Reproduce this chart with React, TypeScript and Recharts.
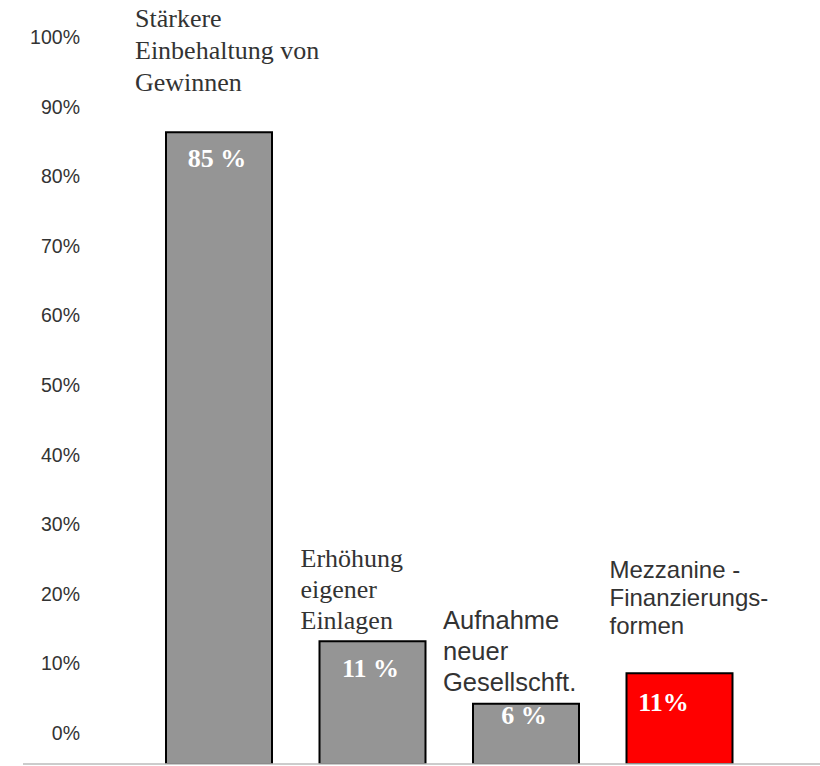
import React from 'react';
import { BarChart, Bar, XAxis, YAxis, Cell, LabelList } from 'recharts';

// values (bar tops), plus the labels printed in the bars
const categories = ['Einbehaltung', 'Einlagen', 'Gesellschafter', 'Mezzanine'];
const barValues = [86.3, 13.2, 4.2, 8.6];
const valueLabels = ['85 %', '11 %', '6 %', '11%'];
const categoryLines = [
    ['Stärkere', 'Einbehaltung von', 'Gewinnen'],
    ['Erhöhung', 'eigener', 'Einlagen'],
    ['Aufnahme', 'neuer', 'Gesellschft.'],
    ['Mezzanine -', 'Finanzierungs-', 'formen']
];
const yTicks = [0, 10, 20, 30, 40, 50, 60, 70, 80, 90, 100];

// bars run down past 0% to the base line
const AXIS_FLOOR = -4.45;

const barColors = ['#959595', '#959595', '#959595', '#ff0000'];
const labelFonts = ['"Liberation Serif", serif', '"Liberation Serif", serif', '"Liberation Sans", Arial, sans-serif', '"Liberation Sans", Arial, sans-serif'];
const labelSizes = [26, 26, 25.5, 24];
const labelLineGap = [32, 31, 31, 28];
const labelLift = [41, 12, 13, 39];
const labelDx = [-31, -19, -30, -17];
const valueDy = [35, 36, 20, 38];
const valueDx = [-2, -2, -2, -16];

const data = categories.map((name, i) => ({ name, value: barValues[i], label: valueLabels[i] }));

function AxisTick(props: any) {
    const { y, payload } = props;
    return (
        <text x={80} y={y} dy={7} textAnchor="end" fill="#333" fontSize={19.5}
              fontFamily='"Liberation Sans", Arial, sans-serif'>
            {payload.value}%
        </text>
    );
}

function CategoryLabel(props: any) {
    const { x, y, index } = props;
    const lines = categoryLines[index];
    const gap = labelLineGap[index];
    const lastBase = y - labelLift[index];
    return (
        <text x={x + labelDx[index]} fill="#333" fontSize={labelSizes[index]} fontFamily={labelFonts[index]}>
            {lines.map((line, k) => (
                <tspan key={k} x={x + labelDx[index]} y={lastBase - (lines.length - 1 - k) * gap}>{line}</tspan>
            ))}
        </text>
    );
}

function ValueLabel(props: any) {
    const { x, y, width, index, value } = props;
    return (
        <text x={x + width / 2 + valueDx[index]} y={y + valueDy[index]} textAnchor="middle" fill="#fff"
              fontSize={26} fontWeight="bold" fontFamily='"Liberation Serif", serif'>
            {value}
        </text>
    );
}

export default function App(): JSX.Element {
    return (
        <div style={{ position: 'absolute', left: 0, top: 0, width: 820, height: 766, background: '#fff' }}>
            <BarChart width={820} height={766} data={data} margin={{ top: 37, right: 0, bottom: 0, left: 0 }}>
                <XAxis dataKey="name" height={2} tick={false} tickLine={false}
                       axisLine={{ stroke: '#bbbbbb', strokeWidth: 1.5 }}
                       padding={{ left: 119, right: 64 }} />
                <YAxis width={23} domain={[AXIS_FLOOR, 100]} ticks={yTicks} allowDataOverflow
                       axisLine={false} tickLine={false} tick={<AxisTick />} />
                <Bar dataKey={(d: any) => [AXIS_FLOOR, d.value]} barSize={106} stroke="#000" strokeWidth={2}
                     isAnimationActive={false}>
                    {data.map((d, i) => (
                        <Cell key={d.name} fill={barColors[i]} />
                    ))}
                    <LabelList dataKey="label" content={<ValueLabel />} />
                    <LabelList dataKey="name" content={<CategoryLabel />} />
                </Bar>
            </BarChart>
        </div>
    );
}
